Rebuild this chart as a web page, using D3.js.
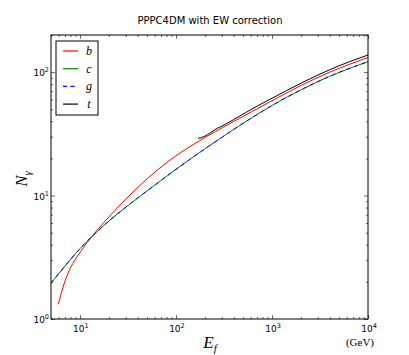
<!DOCTYPE html>
<html>
<head>
<meta charset="utf-8">
<script src="https://cdn.jsdelivr.net/npm/d3@7/dist/d3.min.js"></script>
<style>
body{margin:0;background:#fff;}
svg{display:block;}
</style>
</head>
<body>
<div id="chart"></div>
<script>
// channels in legend order
var channels = ["b", "c", "g", "t"];

// b quark
var E_b = [5.96, 6.31, 7.08, 7.94, 10, 12, 14.1, 20, 29.5, 50, 79.4, 100, 170, 251, 393, 1000, 1960, 3980, 10000];
var N_b = [1.315, 1.56, 2.08, 2.58, 3.45, 4.2, 4.92, 6.70, 9.23, 13.65, 18.4, 21.0, 27.4, 32.7, 39.6, 58.6, 77.3, 99.8, 131.5];

// c quark and gluon sit on top of each other
var E_c = [5, 7, 10, 14.1, 20, 30, 50, 100, 200, 300, 500, 700, 1000, 2000, 3000, 5000, 10000];
var N_c = [1.95, 2.69, 3.71, 4.86, 6.21, 8.04, 10.9, 16.3, 23.9, 29.6, 38.5, 45.4, 53.7, 71.8, 83.8, 99.5, 121.6];
var E_g = E_c;
var N_g = N_c;

// top quark, only above threshold
var E_t = [170, 185, 200, 230, 270, 300, 400, 700, 1000, 2000, 5000, 10000];
var N_t = [29.1, 29.5, 30.3, 32.4, 35.1, 36.5, 41.3, 53.1, 61.4, 81.3, 112.7, 137.7];

var xDomain = [5, 10000];
var yDomain = [1, 200];

var series = [
  {name: "b", E: E_b, N: N_b, dash: null},
  {name: "c", E: E_c, N: N_c, dash: null},
  {name: "g", E: E_g, N: N_g, dash: "4,4"},
  {name: "t", E: E_t, N: N_t, dash: null}
];

var color = d3.scaleOrdinal()
  .domain(channels)
  .range(["#ff0000", "#008000", "#0000ff", "#000000"]);

var width = 409, height = 355;
var plotLeft = 51, plotRight = 368, plotTop = 35, plotBottom = 319;

var x = d3.scaleLog().domain(xDomain).range([plotLeft, plotRight]);
var y = d3.scaleLog().domain(yDomain).range([plotBottom, plotTop]);

var svg = d3.select("#chart").append("svg")
  .attr("width", width)
  .attr("height", height);

svg.append("rect").attr("width", width).attr("height", height).attr("fill", "#fff");

// title
svg.append("text")
  .attr("x", 210).attr("y", 24)
  .attr("text-anchor", "middle")
  .style("font-family", "'DejaVu Sans', sans-serif")
  .style("font-size", "10px")
  .text("PPPC4DM with EW correction");

// curves
svg.append("clipPath").attr("id", "clip")
  .append("rect").attr("x", plotLeft).attr("y", plotTop)
  .attr("width", plotRight - plotLeft).attr("height", plotBottom - plotTop);

var line = d3.line()
  .x(function(d){ return x(d[0]); })
  .y(function(d){ return y(d[1]); })
  .curve(d3.curveMonotoneX);

var plot = svg.append("g").attr("clip-path", "url(#clip)");
series.forEach(function(s){
  var pts = s.E.map(function(e, i){ return [e, s.N[i]]; });
  plot.append("path")
    .datum(pts)
    .attr("d", line)
    .attr("fill", "none")
    .attr("stroke", color(s.name))
    .attr("stroke-width", 1)
    .attr("stroke-dasharray", s.dash);
});

// ticks, matplotlib style: inward on all four sides
function isMajor(v){ return Math.abs(Math.log10(v) - Math.round(Math.log10(v))) < 1e-9; }
var xt = x.ticks().filter(function(v){ return v >= xDomain[0] && v <= xDomain[1]; });
var yt = y.ticks().filter(function(v){ return v >= yDomain[0] && v <= yDomain[1]; });
var xMaj = xt.filter(isMajor), xMin = xt.filter(function(v){ return !isMajor(v); });
var yMaj = yt.filter(isMajor), yMin = yt.filter(function(v){ return !isMajor(v); });

function addAxis(axisFn, scale, vals, size, tx, ty){
  var g = svg.append("g")
    .attr("transform", "translate(" + tx + "," + ty + ")")
    .call(axisFn(scale).tickValues(vals).tickSize(-size).tickFormat(""));
  g.select(".domain").remove();
  g.selectAll("line").attr("stroke", "#000").attr("stroke-width", 0.6);
}
addAxis(d3.axisBottom, x, xMaj, 4, 0, plotBottom);
addAxis(d3.axisBottom, x, xMin, 2, 0, plotBottom);
addAxis(d3.axisTop, x, xMaj, 4, 0, plotTop);
addAxis(d3.axisTop, x, xMin, 2, 0, plotTop);
addAxis(d3.axisLeft, y, yMaj, 4, plotLeft, 0);
addAxis(d3.axisLeft, y, yMin, 2, plotLeft, 0);
addAxis(d3.axisRight, y, yMaj, 4, plotRight, 0);
addAxis(d3.axisRight, y, yMin, 2, plotRight, 0);

// frame
svg.append("rect")
  .attr("x", plotLeft).attr("y", plotTop)
  .attr("width", plotRight - plotLeft).attr("height", plotBottom - plotTop)
  .attr("fill", "none").attr("stroke", "#000").attr("stroke-width", 1);

// tick labels 10^k
function powLabel(g, v){
  var t = g.append("text")
    .style("font-family", "'DejaVu Sans', sans-serif")
    .style("font-size", "9px");
  t.append("tspan").text("10");
  t.append("tspan").attr("dy", -4).style("font-size", "6.5px").text(Math.round(Math.log10(v)));
  return t;
}
xMaj.forEach(function(v){
  powLabel(svg, v).attr("x", x(v) + 1).attr("y", 332).attr("text-anchor", "middle");
});
yMaj.forEach(function(v){
  powLabel(svg, v).attr("x", 49).attr("y", y(v) + 4).attr("text-anchor", "end");
});

// axis titles
var xl = svg.append("text")
  .attr("x", 210).attr("y", 348)
  .attr("text-anchor", "middle")
  .style("font-family", "'Liberation Serif', serif")
  .style("font-style", "italic")
  .style("font-size", "17px");
xl.append("tspan").text("E");
xl.append("tspan").attr("dy", 4).style("font-size", "11px").text("f");

svg.append("text")
  .attr("x", 360).attr("y", 346)
  .attr("text-anchor", "middle")
  .style("font-family", "'Liberation Serif', serif")
  .style("font-size", "11px")
  .text("(GeV)");

var yl = svg.append("text")
  .attr("transform", "translate(27,179) rotate(-90)")
  .attr("text-anchor", "middle")
  .style("font-family", "'Liberation Serif', serif")
  .style("font-style", "italic")
  .style("font-size", "17px");
yl.append("tspan").text("N");
yl.append("tspan").attr("dy", 4).style("font-size", "11px").text("γ");

// legend
var legend = svg.append("g").attr("transform", "translate(56,41)");
legend.append("rect")
  .attr("width", 42).attr("height", 74)
  .attr("fill", "#fff").attr("stroke", "#000").attr("stroke-width", 1);
var items = legend.selectAll(".item")
  .data(series)
  .enter().append("g")
  .attr("class", "item")
  .attr("transform", function(d, i){ return "translate(0," + (10 + i * 17.7) + ")"; });
items.append("line")
  .attr("x1", 7).attr("x2", 22)
  .attr("stroke", function(d){ return color(d.name); })
  .attr("stroke-width", 1.2)
  .attr("stroke-dasharray", function(d){ return d.dash ? "4,3.5" : null; });
items.append("text")
  .attr("x", 33).attr("y", 4)
  .attr("text-anchor", "middle")
  .style("font-family", "'Liberation Serif', serif")
  .style("font-style", "italic")
  .style("font-size", "12px")
  .text(function(d){ return d.name; });
</script>
</body>
</html>
